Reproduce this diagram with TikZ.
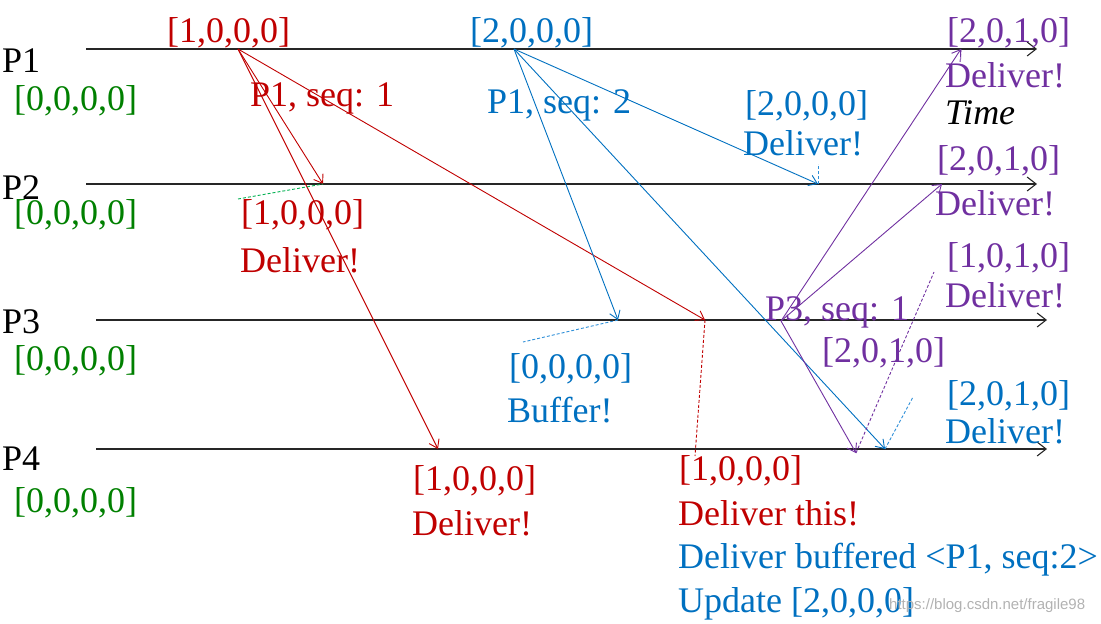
\documentclass[tikz,border=0pt]{standalone}
\usepackage{fontspec}
\setmainfont{Liberation Serif}
\setsansfont{Liberation Sans}
\usetikzlibrary{arrows.meta}
\definecolor{cred}{HTML}{C00000}
\definecolor{cblue}{HTML}{0070C0}
\definecolor{cgreen}{HTML}{008000}
\definecolor{cpurple}{HTML}{7030A0}
\definecolor{cdgreen}{HTML}{00B050}
\definecolor{cdblue}{HTML}{2E8FD8}
\begin{document}
\begin{tikzpicture}[x=1pt,y=-1pt,
  txt/.style={font=\fontsize{36}{43}\selectfont, inner sep=0pt, anchor=base west},
  timeline/.style={line width=1.6pt, draw=black!85, -{Straight Barb[length=9pt,width=14pt,line width=1.1pt]}},
  msg/.style={line width=0.9pt, -{Straight Barb[length=8pt,width=11pt]}},
  mark line/.style={line width=0.9pt, dash pattern=on 3pt off 2pt}
]
\useasboundingbox (0,0) rectangle (1101,624);
% timelines
\coordinate (p1s) at (86,49);  \coordinate (p1e) at (1037,49);
\coordinate (p2s) at (86,184); \coordinate (p2e) at (1037,184);
\coordinate (p3s) at (96,320); \coordinate (p3e) at (1047,320);
\coordinate (p4s) at (96,449); \coordinate (p4e) at (1047,449);
\draw[timeline] (p1s) -- (p1e);
\draw[timeline] (p2s) -- (p2e);
\draw[timeline] (p3s) -- (p3e);
\draw[timeline] (p4s) -- (p4e);
% events
\coordinate (a1) at (238,49);
\coordinate (a2) at (323,184);
\coordinate (a3) at (705,320);
\coordinate (a4) at (438,449);
\coordinate (b1) at (514,49);
\coordinate (b2) at (818,184);
\coordinate (b3) at (618,320);
\coordinate (b4) at (885,449);
\coordinate (c1) at (781,321);
\coordinate (c2) at (961,49);
\coordinate (c3) at (942,184);
\coordinate (c4) at (856,453);
% dashed marker ends
\coordinate (ga) at (238,199);
\coordinate (ra) at (695,456);
\coordinate (ba) at (523,342);
\coordinate (bb) at (818,164);
\coordinate (bc) at (913,397);
\coordinate (pa) at (934,272);
\coordinate (pb) at (960,63);
% messages
\draw[msg,cred] (a1) -- (a2);
\draw[msg,cred] (a1) -- (a4);
\draw[msg,cred] (a1) -- (a3);
\draw[msg,cblue] (b1) -- (b3);
\draw[msg,cblue] (b1) -- (b2);
\draw[msg,cblue] (b1) -- (b4);
\draw[msg,cpurple] (c1) -- (c2);
\draw[msg,cpurple] (c1) -- (c3);
\draw[msg,cpurple] (c1) -- (c4);
% dashed markers
\draw[mark line,cdgreen] (ga) -- (a2);
\draw[mark line,cred] (a3) -- (ra);
\draw[mark line,cdblue] (b3) -- (ba);
\draw[mark line,cdblue] (b2) -- (bb);
\draw[mark line,cdblue] (b4) -- (bc);
\draw[mark line,cpurple] (c4) -- (pa);
\draw[mark line,cpurple] (c2) -- (pb);
% process labels
\node[txt] (lp1) at (2,72) {P1};
\node[txt] (lp2) at (2,199) {P2};
\node[txt] (lp3) at (2,333) {P3};
\node[txt] (lp4) at (2,470) {P4};
\node[txt,cgreen] (v1) at (14,110) {[0,0,0,0]};
\node[txt,cgreen] (v2) at (14,224) {[0,0,0,0]};
\node[txt,cgreen] (v3) at (14,370) {[0,0,0,0]};
\node[txt,cgreen] (v4) at (14,512) {[0,0,0,0]};
% red texts
\node[txt,cred] (r1) at (167,42) {[1,0,0,0]};
\node[txt,cred] (r2) at (250,106) {P1, seq: 1};
\node[txt,cred] (r3) at (241,224) {[1,0,0,0]};
\node[txt,cred] (r4) at (240,272) {Deliver!};
\node[txt,cred] (r5) at (413,490) {[1,0,0,0]};
\node[txt,cred] (r6) at (412,535) {Deliver!};
\node[txt,cred] (r7) at (679,480) {[1,0,0,0]};
\node[txt,cred] (r8) at (678,525) {Deliver this!};
% blue texts
\node[txt,cblue] (u1) at (470,42) {[2,0,0,0]};
\node[txt,cblue] (u2) at (487,113) {P1, seq: 2};
\node[txt,cblue] (u3) at (745,115) {[2,0,0,0]};
\node[txt,cblue] (u4) at (743,155) {Deliver!};
\node[txt,cblue] (u5) at (509,378) {[0,0,0,0]};
\node[txt,cblue] (u6) at (507,422) {Buffer!};
\node[txt,cblue] (u7) at (947,405) {[2,0,1,0]};
\node[txt,cblue] (u8) at (945,443) {Deliver!};
\node[txt,cblue] (u9) at (678,568) {Deliver buffered <P1, seq:2>};
\node[txt,cblue] (u10) at (678,612) {Update [2,0,0,0]};
% purple texts
\node[txt,cpurple] (q1) at (947,42) {[2,0,1,0]};
\node[txt,cpurple] (q2) at (945,87) {Deliver!};
\node[txt] (tm) at (945,124) {\itshape Time};
\node[txt,cpurple] (q3) at (937,170) {[2,0,1,0]};
\node[txt,cpurple] (q4) at (935,215) {Deliver!};
\node[txt,cpurple] (q5) at (947,267) {[1,0,1,0]};
\node[txt,cpurple] (q6) at (945,307) {Deliver!};
\node[txt,cpurple] (q7) at (765,320) {P3, seq: 1};
\node[txt,cpurple] (q8) at (822,362) {[2,0,1,0]};
% watermark
\node[inner sep=0pt,anchor=base west,font=\sffamily\fontsize{15}{18}\selectfont,text=black!30] (wm) at (889,609) {https://blog.csdn.net/fragile98};
\end{tikzpicture}
\end{document}
